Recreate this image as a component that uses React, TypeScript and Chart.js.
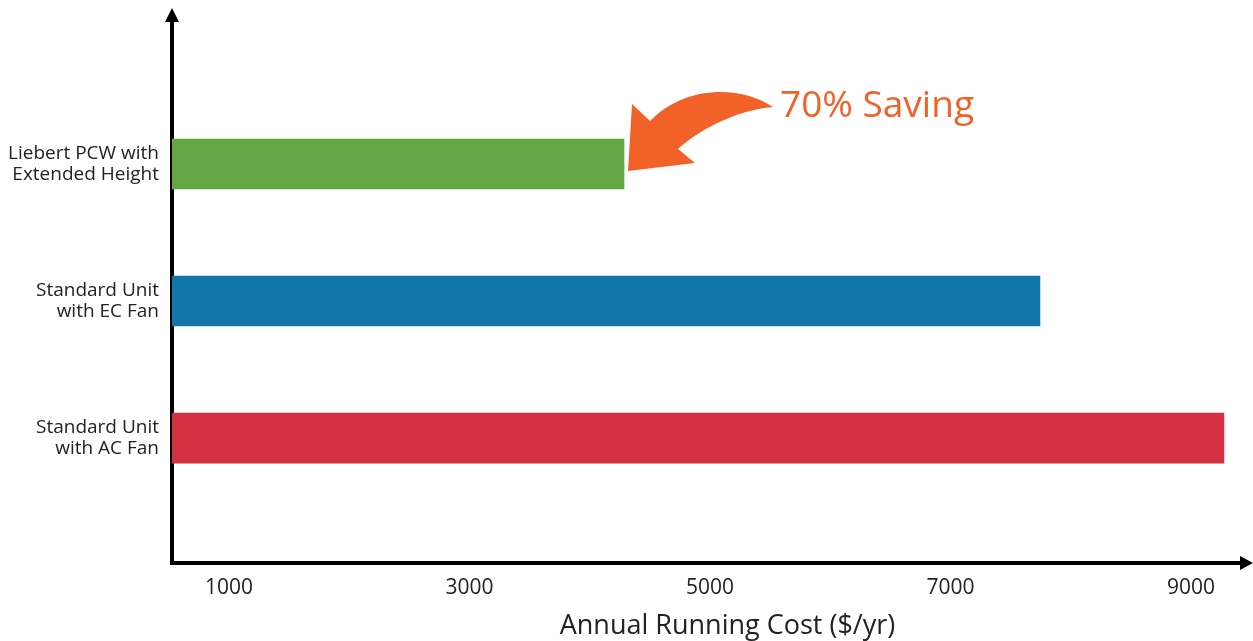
import React, { useEffect, useRef } from "react";
import { Chart, registerables } from "chart.js";

Chart.register(...registerables);

const CATEGORIES: string[][] = [
  ["Liebert PCW with", "Extended Height"],
  ["Standard Unit", "with EC Fan"],
  ["Standard Unit", "with AC Fan"],
];
const COSTS: number[] = [4285, 7744, 9274];
const BAR_COLORS: string[] = ["#64A644", "#1076AA", "#D33041"];
const X_TICKS: number[] = [1000, 3000, 5000, 7000, 9000];
const X_TITLE = "Annual Running Cost ($/yr)";
const NOTE = "70% Saving";

const FONT = "'Open Sans', 'Noto Sans', sans-serif";
const ORANGE = "#F26128";

const decorPlugin = {
  id: "decor",
  afterDraw(chart: any) {
    const { ctx, chartArea } = chart;
    ctx.save();
    // axis arrows
    ctx.fillStyle = "#000";
    ctx.beginPath();
    ctx.moveTo(chartArea.left, 8);
    ctx.lineTo(chartArea.left - 7, 22);
    ctx.lineTo(chartArea.left + 7, 22);
    ctx.closePath();
    ctx.fill();
    ctx.fillRect(chartArea.left - 2, 21, 4, Math.max(0, chartArea.top - 20));
    ctx.beginPath();
    ctx.moveTo(chart.width, chartArea.bottom);
    ctx.lineTo(chartArea.right - 1, chartArea.bottom - 7);
    ctx.lineTo(chartArea.right - 1, chartArea.bottom + 7);
    ctx.closePath();
    ctx.fill();

    // x-axis title (slightly right of centre, as in the reference)
    ctx.fillStyle = "#222";
    ctx.font = `27px ${FONT}`;
    ctx.textAlign = "center";
    ctx.textBaseline = "middle";
    ctx.fillText(X_TITLE, (chartArea.left + chartArea.right) / 2 + 21, 626);

    // annotation arrow anchored at end of first bar
    const bar = chart.getDatasetMeta(0).data[0];
    if (bar) {
      const tx = bar.x + 4;
      const ty = bar.y + 7;
      const p = (x: number, y: number): [number, number] => [tx + x, ty + y];
      ctx.fillStyle = ORANGE;
      ctx.beginPath();
      ctx.moveTo(...p(145, -64));
      ctx.bezierCurveTo(...p(115, -84), ...p(60, -88), ...p(22, -50));
      ctx.lineTo(...p(4, -67));
      ctx.lineTo(...p(0, 0));
      ctx.lineTo(...p(67, -8));
      ctx.lineTo(...p(50, -22));
      ctx.bezierCurveTo(...p(75, -45), ...p(115, -62), ...p(145, -64));
      ctx.closePath();
      ctx.fill();
      ctx.font = `37px ${FONT}`;
      ctx.textAlign = "left";
      ctx.textBaseline = "alphabetic";
      ctx.fillText(NOTE, tx + 152, ty - 54);
    }
    ctx.restore();
  },
};

export default function App() {
  const ref = useRef<HTMLCanvasElement | null>(null);
  useEffect(() => {
    if (!ref.current) return;
    const chart = new Chart(ref.current, {
      type: "bar",
      data: {
        datasets: [
          {
            data: COSTS.map((v, i) => ({ x: v, y: i })),
            backgroundColor: BAR_COLORS,
            barThickness: 50,
            borderWidth: 0,
          },
        ],
      },
      options: {
        indexAxis: "y",
        animation: false,
        responsive: false,
        devicePixelRatio: 1,
        layout: { padding: { top: 21, right: 12, left: 0, bottom: 0 } },
        plugins: { legend: { display: false }, tooltip: { enabled: false } },
        scales: {
          x: {
            type: "linear",
            min: 526,
            max: 9416,
            grid: { display: false, drawTicks: false },
            border: { display: true, color: "#000", width: 4 },
            afterBuildTicks: (scale: any) => {
              scale.ticks = X_TICKS.map((v) => ({ value: v }));
            },
            afterFit: (scale: any) => {
              scale.height = 78;
              scale.paddingLeft = 0;
              scale.paddingRight = 0;
            },
            ticks: {
              padding: 12,
              color: "#222",
              font: { family: FONT, size: 21 },
              maxRotation: 0,
              callback: (v: any) => String(v),
            },
            title: { display: false, text: X_TITLE },
          },
          y: {
            type: "linear",
            reverse: true,
            offset: false,
            min: -1.044,
            max: 2.912,
            grid: { display: false, drawTicks: false, offset: false },
            border: { display: true, color: "#000", width: 4 },
            afterBuildTicks: (scale: any) => {
              scale.ticks = CATEGORIES.map((_, i) => ({ value: i }));
            },
            afterFit: (scale: any) => {
              scale.width = 172;
              scale.paddingTop = 0;
              scale.paddingBottom = 0;
            },
            ticks: {
              padding: 13,
              color: "#222",
              font: { family: FONT, size: 19, lineHeight: 1.15 },
              callback: (v: any) => CATEGORIES[v] ?? "",
            },
          },
        },
      },
      plugins: [decorPlugin],
    } as any);
    return () => chart.destroy();
  }, []);
  return (
    <div style={{ position: "absolute", left: 0, top: 0, width: 1253, height: 641, background: "#fff" }}>
      <canvas ref={ref} width={1253} height={641} />
    </div>
  );
}
